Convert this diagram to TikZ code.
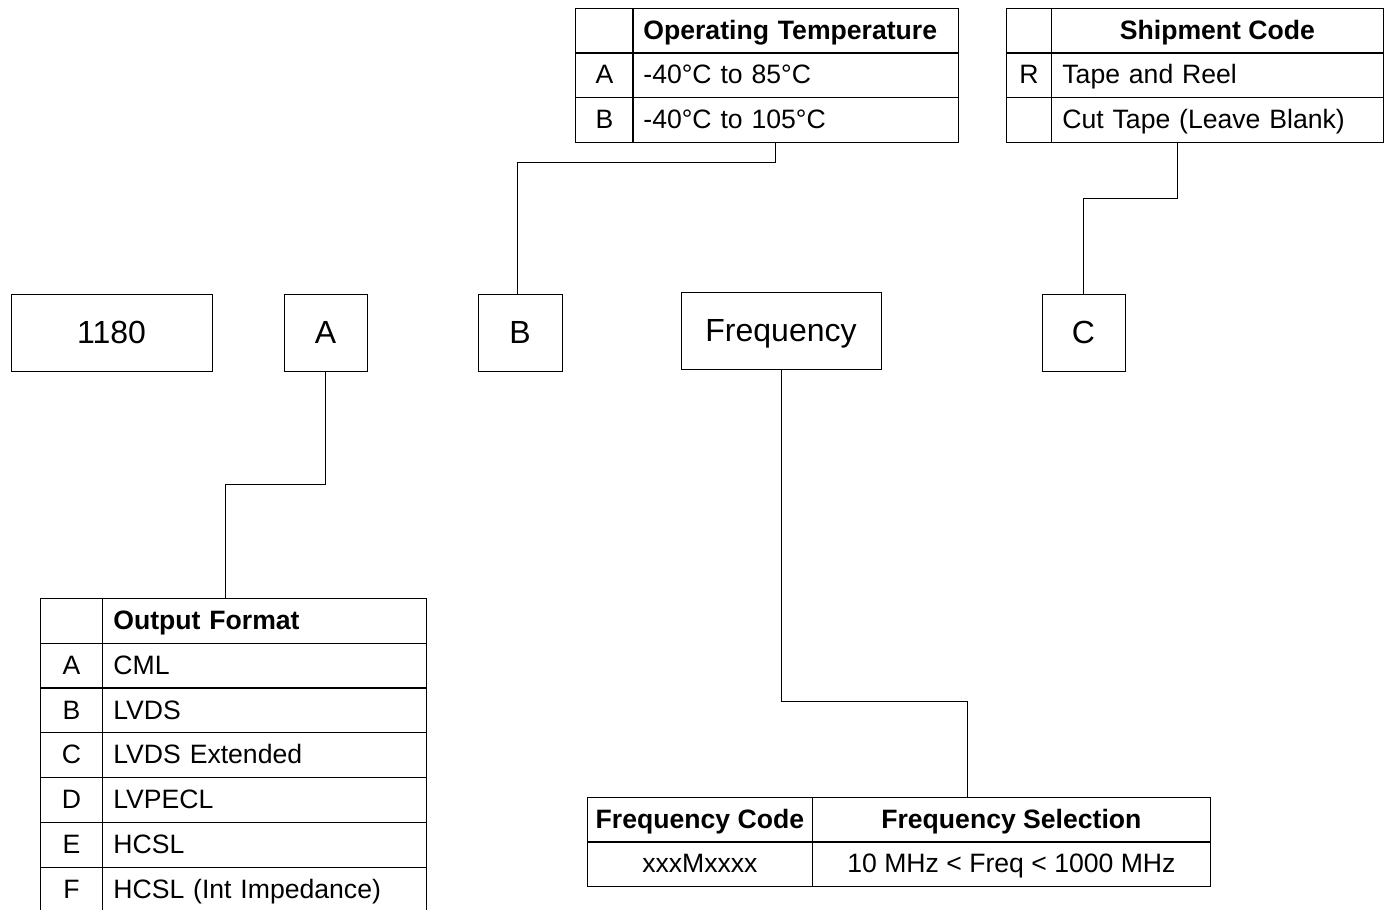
\documentclass[tikz,border=0pt]{standalone}
\usepackage{fontspec}
\setmainfont{Liberation Sans}
\tikzset{
  tab/.style={font=\fontsize{13.3}{15}\selectfont, text height=10.4pt, text depth=1.6pt},
  keycell/.style={draw, tab, anchor=north west, inner sep=0pt, minimum width=#1, minimum height=22.3pt},
  txtcell/.style={draw, tab, anchor=north west, inner xsep=5.5pt, inner ysep=0pt, text width=#1, align=left, minimum height=22.3pt},
  midcell/.style={draw, tab, anchor=north west, inner sep=0pt, minimum width=#1, minimum height=22.3pt},
  codebox/.style={draw, font=\fontsize{16}{19}\selectfont, text height=12.5pt, text depth=2pt, inner sep=0pt, minimum height=38.5pt, minimum width=#1},
}
\begin{document}
\begin{tikzpicture}[x=0.5pt,y=-0.5pt]
  \useasboundingbox (0,0) rectangle (1384,909);

  % part number fields
  \node[codebox=100.5pt] (boxNum) at (111.5,332.5) {1180};
  \node[codebox=41.5pt] (boxA) at (325.5,332.5) {A};
  \node[codebox=42pt] (boxB) at (520,332.5) {B};
  \node[codebox=100pt] (boxF) at (781,330.5) {Frequency};
  \node[codebox=41.5pt] (boxC) at (1083.5,332.5) {C};

  % operating temperature
  \node[keycell=29pt] (tempK0) at (575,8) {};
  \node[txtcell=152pt] (tempT0) at (632,8) {\bfseries Operating Temperature};
  \node[keycell=29pt] (tempK1) at (575,52.5) {A};
  \node[txtcell=152pt] (tempT1) at (632,52.5) {-40°C to 85°C};
  \node[keycell=29pt] (tempK2) at (575,97) {B};
  \node[txtcell=152pt] (tempT2) at (632,97) {-40°C to 105°C};

  % shipment
  \node[keycell=22.5pt] (shipK0) at (1006,8) {};
  \node[midcell=166pt] (shipT0) at (1051,8) {\bfseries Shipment Code};
  \node[keycell=22.5pt] (shipK1) at (1006,52.5) {R};
  \node[txtcell=155pt] (shipT1) at (1051,52.5) {Tape and Reel};
  \node[keycell=22.5pt] (shipK2) at (1006,97) {};
  \node[txtcell=155pt] (shipT2) at (1051,97) {Cut Tape (Leave Blank)};

  % output format
  \node[keycell=31pt] (outK0) at (40,598) {};
  \node[txtcell=151pt] (outH) at (102,598) {\bfseries Output Format};
  \foreach \k/\txt [count=\i] in {A/CML, B/LVDS, C/LVDS Extended, D/LVPECL, E/HCSL, F/HCSL (Int Impedance)}
    {
      \node[keycell=31pt] (outK\i) at (40,{598+44.8*\i}) {\k};
      \node[txtcell=151pt] (outT\i) at (102,{598+44.8*\i}) {\txt};
    }

  % frequency
  \node[midcell=112.5pt] (fcodeH) at (587,797) {\bfseries Frequency Code};
  \node[midcell=199pt] (fselH) at (812,797) {\bfseries Frequency Selection};
  \node[midcell=112.5pt] (fcode1) at (587,841) {xxxMxxxx};
  \node[midcell=199pt] (fsel1) at (812,841) {10 MHz < Freq < 1000 MHz};

  % connectors
  \draw ([xshift=-10pt]tempT2.south) -- ++(0,20.5) -| ([xshift=-1.5pt]boxB.north);
  \draw ([xshift=-20pt]shipT2.south) -- ++(0,56.5) -| (boxC.north);
  \draw (boxA.south) -- ++(0,113) -| ([xshift=-19.5pt]outH.north);
  \draw (boxF.south) -- ++(0,332) -| ([xshift=-22pt]fselH.north);
\end{tikzpicture}
\end{document}
